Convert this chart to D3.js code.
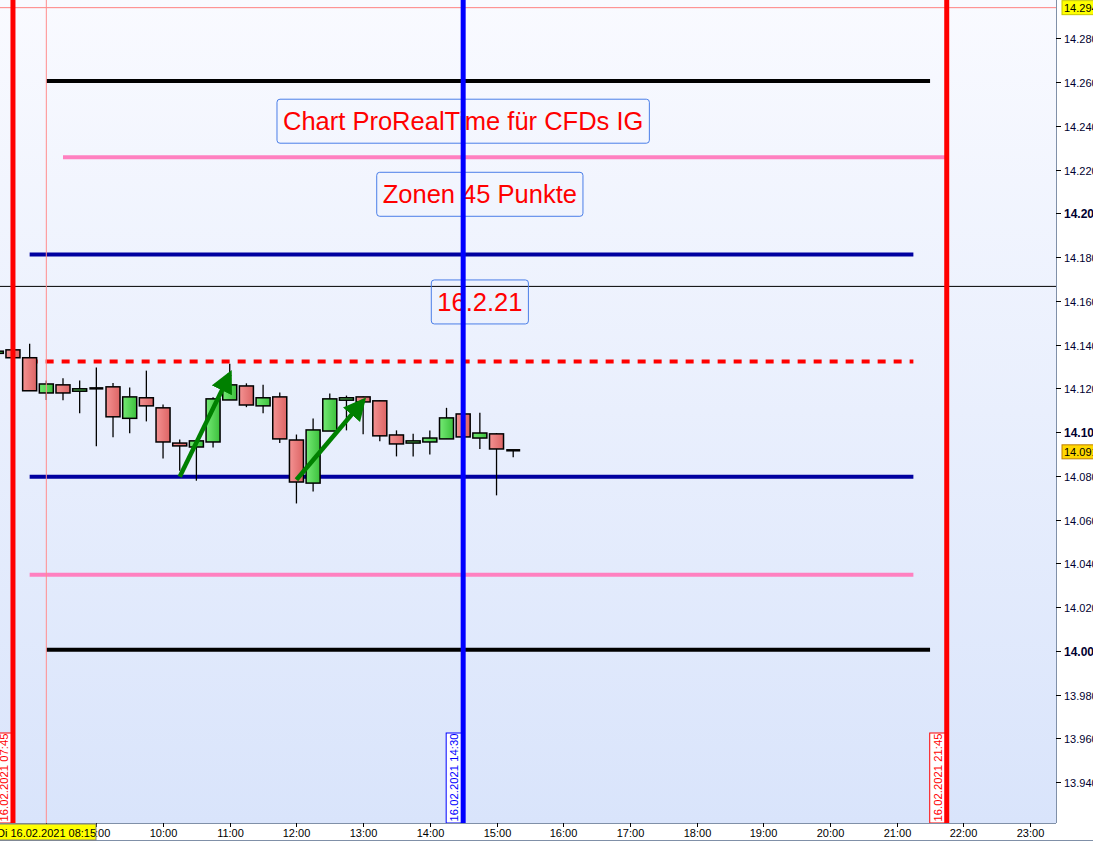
<!DOCTYPE html>
<html><head><meta charset="utf-8">
<script src="https://cdn.jsdelivr.net/npm/d3@7"></script>
<style>body{margin:0;background:#fff;overflow:hidden}svg{display:block;font-family:Arial,"Liberation Sans",sans-serif}</style>
</head><body><svg id="c" width="1093" height="842"></svg>
<script>
// ---- data ----
const candleTimes = ["07:30","07:45","08:00","08:15","08:30","08:45","09:00","09:15","09:30","09:45","10:00","10:15","10:30","10:45","11:00","11:15","11:30","11:45","12:00","12:15","12:30","12:45","13:00","13:15","13:30","13:45","14:00","14:15","14:30","14:45","15:00","15:15"];
const opens  = [14.1360,14.1376,14.1340,14.1179,14.1216,14.1187,14.1200,14.1207,14.1063,14.1157,14.1111,14.0950,14.0932,14.0955,14.1147,14.1211,14.1120,14.1161,14.0964,14.0767,14.1005,14.1146,14.1161,14.1143,14.0987,14.0950,14.0955,14.0969,14.1083,14.0973,14.0992,14.0917];
const highs  = [14.1372,14.1380,14.1404,14.1236,14.1246,14.1236,14.1295,14.1225,14.1204,14.1281,14.1126,14.0966,14.0962,14.1159,14.1312,14.1223,14.1217,14.1181,14.0989,14.1062,14.1176,14.1167,14.1163,14.1144,14.1008,14.0992,14.1007,14.1111,14.1090,14.1089,14.0996,14.0917];
const lows   = [14.1355,14.1340,14.1189,14.1147,14.1146,14.1086,14.0935,14.0976,14.0995,14.1049,14.0880,14.0824,14.0778,14.0930,14.1147,14.1114,14.1086,14.0950,14.0674,14.0729,14.1005,14.1008,14.0990,14.0958,14.0889,14.0889,14.0898,14.0969,14.0975,14.0923,14.0711,14.0885];
const closes = [14.1370,14.1340,14.1189,14.1220,14.1179,14.1198,14.1200,14.1070,14.1161,14.1120,14.0955,14.0937,14.0960,14.1152,14.1216,14.1124,14.1157,14.0969,14.0772,14.1010,14.1152,14.1157,14.1138,14.0983,14.0946,14.0960,14.0973,14.1065,14.0978,14.0996,14.0923,14.0917];

const levelValues = [14.2605,14.2256,14.1812,14.1323,14.0796,14.0348,14.0005];
const levelStarts = ["08:15","08:30","08:00","08:00","08:00","08:00","08:15"];
const levelEnds   = ["21:30","21:45","21:15","21:15","21:15","21:15","21:30"];
const levelKinds  = ["black","pink","navy","reddash","navy","pink","black"];
const refLine = 14.1666;
const highMark = 14.294;
const lastPrice = 14.091;

const vlineTimes  = ["07:45","08:15","14:30","21:45"];
const vlineKinds  = ["red","thin","blue","red"];
const vlineLabels = ["16.02.2021 07:45","","16.02.2021 14:30","16.02.2021 21:45"];

const yTicks = [14.28,14.26,14.24,14.22,14.20,14.18,14.16,14.14,14.12,14.10,14.08,14.06,14.04,14.02,14.00,13.98,13.96,13.94];
const xTickLabels = ["09:00","10:00","11:00","12:00","13:00","14:00","15:00","16:00","17:00","18:00","19:00","20:00","21:00","22:00","23:00"];
const cursorLabel = "Di 16.02.2021 08:15";

const arrowStarts = [["10:15",14.0796],["12:00",14.0782]];
const arrowEnds   = [["11:00",14.1265],["13:00",14.1142]];

const notes = ["Chart ProRealTime für CFDs IG","Zonen 45 Punkte","16.2.21"];
const noteTimes = ["14:30","14:45","14:45"];
const noteValues = [14.2421,14.2087,14.1595];

// ---- layout ----
const W=1093,H=842, plotR=1056, plotB=823;
const hrs = s => { const [h,m]=s.split(":").map(Number); return h+m/60; };
const x = d3.scaleLinear().domain([7.5555,23.3883]).range([0,plotR]);
const y = d3.scaleLinear().domain([13.92135,14.2975]).range([plotB,0]);
const svg = d3.select("#c");
const defs = svg.append("defs");
const bg = defs.append("linearGradient").attr("id","bg").attr("x1",0).attr("y1",0).attr("x2",0).attr("y2",1);
bg.append("stop").attr("offset","0").attr("stop-color","#f9faff");
bg.append("stop").attr("offset","1").attr("stop-color","#d9e4fb");
const gr = defs.append("linearGradient").attr("id","gr").attr("x1",0).attr("x2",1);
gr.append("stop").attr("offset","0").attr("stop-color","#f49292");
gr.append("stop").attr("offset","1").attr("stop-color","#dc6464");
const gg = defs.append("linearGradient").attr("id","gg").attr("x1",0).attr("x2",1);
gg.append("stop").attr("offset","0").attr("stop-color","#74ea74");
gg.append("stop").attr("offset","1").attr("stop-color","#3cc03c");
defs.append("clipPath").attr("id","clip").append("rect").attr("width",plotR).attr("height",plotB);
const mk = defs.append("marker").attr("id","ah").attr("viewBox","0 0 10 10").attr("refX",8).attr("refY",5)
  .attr("markerWidth",5).attr("markerHeight",5).attr("orient","auto").attr("markerUnits","strokeWidth");
mk.append("path").attr("d","M0,0 L10,5 L0,10 Z").attr("fill","#008000");

svg.append("rect").attr("width",W).attr("height",H).attr("fill","#fff");
svg.append("rect").attr("width",plotR).attr("height",plotB).attr("fill","url(#bg)");
const g = svg.append("g").attr("clip-path","url(#clip)");

// high marker line & reference line
g.append("line").attr("x1",0).attr("x2",plotR).attr("y1",y(highMark)).attr("y2",y(highMark)).attr("stroke","#ff8080").attr("stroke-width",1);
g.append("line").attr("x1",0).attr("x2",plotR).attr("y1",y(refLine)).attr("y2",y(refLine)).attr("stroke","#000").attr("stroke-width",1);

// horizontal levels
const lvStyle = {black:["#000",4,null],pink:["#ff80c0",4,null],navy:["#0000a0",4,null],reddash:["#ff0000",4,"8,8"]};
levelValues.forEach((v,i)=>{
  const s=lvStyle[levelKinds[i]];
  g.append("line").attr("x1",x(hrs(levelStarts[i]))).attr("x2",x(hrs(levelEnds[i])))
   .attr("y1",y(v)).attr("y2",y(v)).attr("stroke",s[0]).attr("stroke-width",s[1]).attr("stroke-dasharray",s[2]);
});

// candles
const cw = 14;
candleTimes.forEach((t,i)=>{
  const cx = x(hrs(t));
  const o=opens[i], c=closes[i];
  g.append("line").attr("x1",cx).attr("x2",cx).attr("y1",y(highs[i])).attr("y2",y(lows[i])).attr("stroke","#000").attr("stroke-width",1.3);
  const top=y(Math.max(o,c)), bot=y(Math.min(o,c));
  if (bot-top < 1.5) {
    g.append("line").attr("x1",cx-cw/2).attr("x2",cx+cw/2).attr("y1",top).attr("y2",top).attr("stroke","#000").attr("stroke-width",2.5);
  } else {
    g.append("rect").attr("x",cx-cw/2).attr("y",top).attr("width",cw).attr("height",bot-top)
     .attr("fill",c>=o?"url(#gg)":"url(#gr)").attr("stroke","#000").attr("stroke-width",1.5);
  }
});

// arrows
arrowStarts.forEach((s,i)=>{
  const e=arrowEnds[i];
  g.append("line").attr("x1",x(hrs(s[0]))).attr("y1",y(s[1])).attr("x2",x(hrs(e[0]))).attr("y2",y(e[1]))
   .attr("stroke","#008000").attr("stroke-width",4.5).attr("marker-end","url(#ah)");
});

// notes
const noteG = g.append("g");
notes.forEach((n,i)=>{
  const cx = x(hrs(noteTimes[i]));
  const cy = y(noteValues[i]);
  const t = noteG.append("text").attr("x",cx).attr("y",cy).attr("text-anchor","middle").attr("dominant-baseline","central")
    .attr("font-size",25.5).attr("fill","#ff0000").text(n);
  const bb = t.node().getBBox();
  noteG.insert("rect", () => t.node()).attr("x",bb.x-6).attr("y",cy-22).attr("width",bb.width+12).attr("height",44)
    .attr("rx",3).attr("fill","none").attr("stroke","#4a7ee8").attr("stroke-width",1);
});

// vertical line labels (drawn before the lines so the lines sit on top)
vlineTimes.forEach((t,i)=>{
  if(!vlineLabels[i]) return;
  const vx = x(hrs(t));
  const col = vlineKinds[i]==="red"?"#ff0000":"#0000ff";
  const lg = g.append("g").attr("transform",`translate(${vx-9},${plotB}) rotate(-90)`);
  lg.append("rect").attr("x",0).attr("y",-8).attr("width",90).attr("height",16).attr("fill","#fff").attr("stroke",col).attr("stroke-width",1);
  lg.append("text").attr("x",1.5).attr("y",4).attr("font-size",11.3).attr("fill",col).text(vlineLabels[i]);
});

// vertical lines
vlineTimes.forEach((t,i)=>{
  const vx = x(hrs(t));
  const k = vlineKinds[i];
  if (k==="thin") g.append("line").attr("x1",vx).attr("x2",vx).attr("y1",0).attr("y2",plotB).attr("stroke","#ff8c8c").attr("stroke-width",1);
  else g.append("line").attr("x1",vx).attr("x2",vx).attr("y1",0).attr("y2",plotB).attr("stroke",k==="red"?"#ff0000":"#0000ff").attr("stroke-width",5);
});

// frame
svg.append("line").attr("x1",plotR+0.5).attr("x2",plotR+0.5).attr("y1",0).attr("y2",plotB).attr("stroke","#8090a8");
svg.append("line").attr("x1",0).attr("x2",plotR).attr("y1",plotB+0.5).attr("y2",plotB+0.5).attr("stroke","#8090a8");
svg.append("line").attr("x1",0).attr("x2",W).attr("y1",840.5).attr("y2",840.5).attr("stroke","#8090a8");

// right axis
const ra = svg.append("g");
yTicks.forEach(v=>{
  const yy=Math.round(y(v))+0.5;
  const bold = Math.abs(v*10-Math.round(v*10))<1e-9;
  ra.append("line").attr("x1",plotR).attr("x2",plotR+5).attr("y1",yy).attr("y2",yy).attr("stroke","#000");
  ra.append("text").attr("x",plotR+8).attr("y",yy+4).attr("font-size",bold?12:11).attr("font-weight",bold?"bold":null)
    .attr("fill","#000030").text(d3.format(".3f")(v));
});
[[highMark,"#ffff00","#c8c800"],[lastPrice,"#ffd700","#c08000"]].forEach(([v,f,s])=>{
  const yy=y(v);
  ra.append("rect").attr("x",plotR+6).attr("y",yy-7).attr("width",40).attr("height",14).attr("fill",f).attr("stroke",s);
  ra.append("text").attr("x",plotR+8).attr("y",yy+4).attr("font-size",11).attr("fill","#000").text(d3.format(".3f")(v));
});

// bottom axis
const ba = svg.append("g");
xTickLabels.forEach(l=>{
  const xx=Math.round(x(hrs(l)))+0.5;
  ba.append("line").attr("x1",xx).attr("x2",xx).attr("y1",plotB).attr("y2",plotB+4).attr("stroke","#000");
  ba.append("text").attr("x",xx).attr("y",837).attr("text-anchor","middle").attr("font-size",11).attr("fill","#000").text(l);
});
const cx8 = Math.round(x(hrs("08:15")))+0.5;
ba.append("line").attr("x1",cx8).attr("x2",cx8).attr("y1",plotB).attr("y2",plotB+4).attr("stroke","#000");
ba.append("rect").attr("x",-2).attr("y",plotB+1).attr("width",98).attr("height",16).attr("fill","#ffff00").attr("stroke","#808080");
ba.append("text").attr("x",-3).attr("y",837).attr("font-size",11).attr("fill","#000").text(cursorLabel);
</script></body></html>
